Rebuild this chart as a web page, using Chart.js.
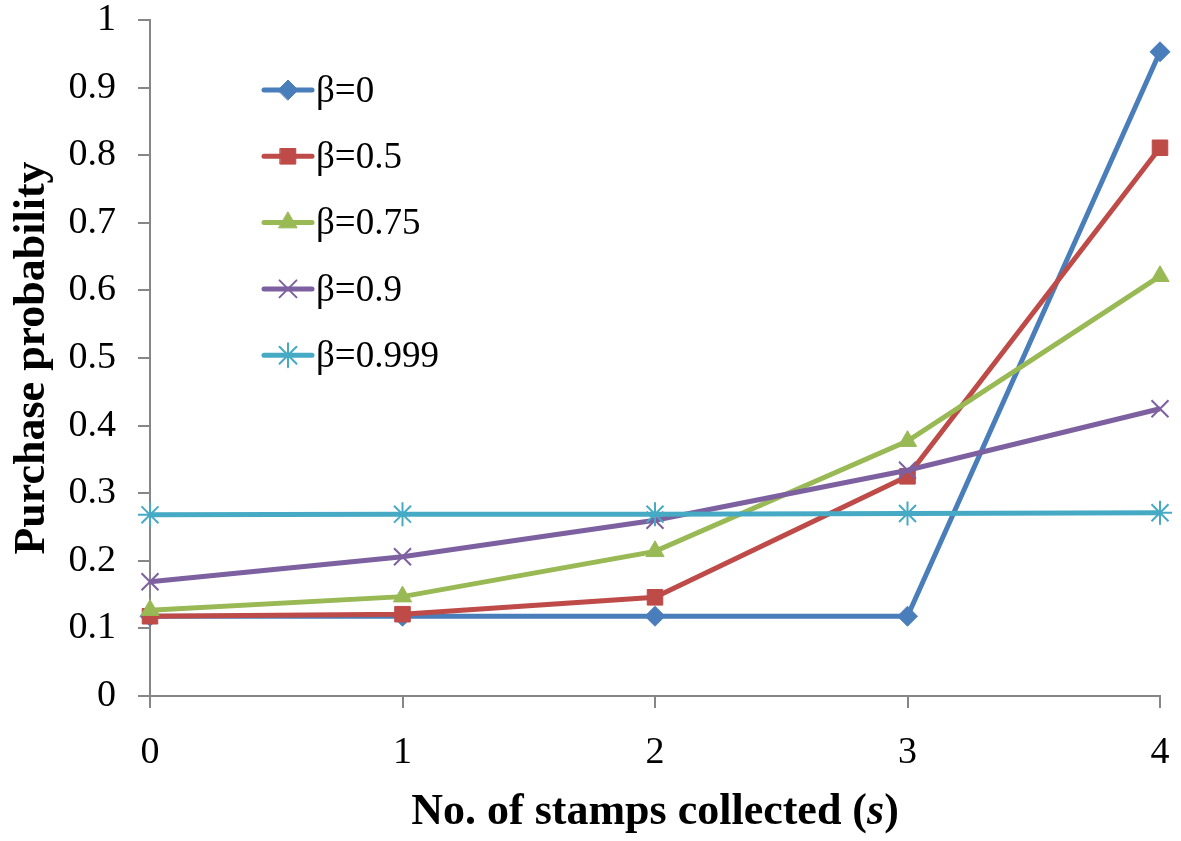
<!DOCTYPE html>
<html>
<head>
<meta charset="utf-8">
<script src="https://cdn.jsdelivr.net/npm/chart.js@4"></script>
<style>
  html, body { margin: 0; padding: 0; background: #fff; }
  #wrap { width: 1181px; height: 841px; position: relative; }
</style>
</head>
<body>
<div id="wrap"><canvas id="chart"></canvas></div>
<script>
var stamps = ['0', '1', '2', '3', '4'];
var seriesNames = ['β=0', 'β=0.5', 'β=0.75', 'β=0.9', 'β=0.999'];
var beta0 = [0.118, 0.118, 0.118, 0.118, 0.953];
var beta05 = [0.118, 0.121, 0.146, 0.325, 0.811];
var beta075 = [0.127, 0.147, 0.214, 0.377, 0.621];
var beta09 = [0.169, 0.206, 0.260, 0.334, 0.425];
var beta0999 = [0.268, 0.269, 0.269, 0.270, 0.271];

var colors = ['#4A7EBB', '#BE4B48', '#98B954', '#7D60A0', '#46AAC5'];
var markers = ['rectRot', 'rect', 'triangle', 'crossRot', 'star'];
var radii = [10, 11, 10.5, 12, 12];
var allValues = [beta0, beta05, beta075, beta09, beta0999];

var FONT = '"Liberation Serif", "Times New Roman", serif';

var datasets = allValues.map(function (vals, i) {
  return {
    label: seriesNames[i],
    data: vals,
    borderColor: colors[i],
    backgroundColor: colors[i],
    borderWidth: 5,
    pointStyle: markers[i],
    pointRadius: radii[i],
    pointBorderWidth: (i >= 3) ? 2 : 1,
    pointBorderColor: colors[i],
    pointBackgroundColor: colors[i],
    tension: 0,
    order: 4 - i
  };
});

// legend drawn inside the plot, like the original
var innerLegend = {
  id: 'innerLegend',
  afterDraw: function (chart) {
    var ctx = chart.ctx;
    ctx.save();
    datasets.forEach(function (ds, i) {
      var y = 90 + i * 66.3;
      ctx.strokeStyle = ds.borderColor;
      ctx.lineWidth = 5;
      ctx.lineCap = 'round';
      ctx.beginPath();
      ctx.moveTo(264, y);
      ctx.lineTo(312, y);
      ctx.stroke();
      ctx.fillStyle = ds.backgroundColor;
      ctx.lineWidth = ds.pointBorderWidth;
      Chart.helpers.drawPoint(ctx, { pointStyle: ds.pointStyle, radius: ds.pointRadius, rotation: 0, borderWidth: ds.pointBorderWidth }, 288, y);
      ctx.fillStyle = '#000';
      ctx.font = '37px ' + FONT;
      ctx.textAlign = 'left';
      ctx.textBaseline = 'middle';
      ctx.fillText(ds.label, 316, y + 2);
    });

    // x axis title with italic s
    var parts = [
      { t: 'No. of stamps collected (', f: 'bold 44px ' + FONT },
      { t: 's', f: 'italic bold 44px ' + FONT },
      { t: ')', f: 'bold 44px ' + FONT }
    ];
    var total = 0;
    parts.forEach(function (p) { ctx.font = p.f; p.w = ctx.measureText(p.t).width; total += p.w; });
    var area = chart.chartArea;
    var x = (area.left + area.right) / 2 - total / 2;
    ctx.textBaseline = 'middle';
    parts.forEach(function (p) {
      ctx.font = p.f;
      ctx.fillText(p.t, x, 813);
      x += p.w;
    });
    ctx.restore();
  }
};

new Chart(document.getElementById('chart').getContext('2d'), {
  type: 'line',
  data: { labels: stamps, datasets: datasets },
  options: {
    responsive: true,
    maintainAspectRatio: false,
    animation: false,
    layout: { padding: { left: 6, right: 21, top: 20, bottom: 0 } },
    plugins: {
      legend: { display: false },
      tooltip: { enabled: false }
    },
    scales: {
      x: {
        offset: false,
        afterFit: function (scale) {
          scale.height = 145;
          scale.paddingLeft = 0;
          scale.paddingRight = 0;
        },
        grid: { drawOnChartArea: false, color: '#868686', tickLength: 12, lineWidth: 2 },
        border: { color: '#868686', width: 2 },
        ticks: { color: '#000', font: { family: FONT, size: 38 }, padding: 22, maxRotation: 0 }
      },
      y: {
        min: 0,
        max: 1,
        afterFit: function (scale) {
          scale.width = 144;
          scale.paddingTop = 0;
          scale.paddingBottom = 0;
        },
        grid: { drawOnChartArea: false, color: '#868686', tickLength: 12, lineWidth: 2 },
        border: { color: '#868686', width: 2 },
        ticks: {
          stepSize: 0.1,
          color: '#000',
          padding: 22,
          font: { family: FONT, size: 38 },
          callback: function (v) { return Math.round(v * 10) / 10; }
        },
        title: {
          display: true,
          text: 'Purchase probability',
          color: '#000',
          font: { family: FONT, size: 44, weight: 'bold' },
          padding: { top: 0, bottom: 0 }
        }
      }
    }
  },
  plugins: [innerLegend]
});
</script>
</body>
</html>
